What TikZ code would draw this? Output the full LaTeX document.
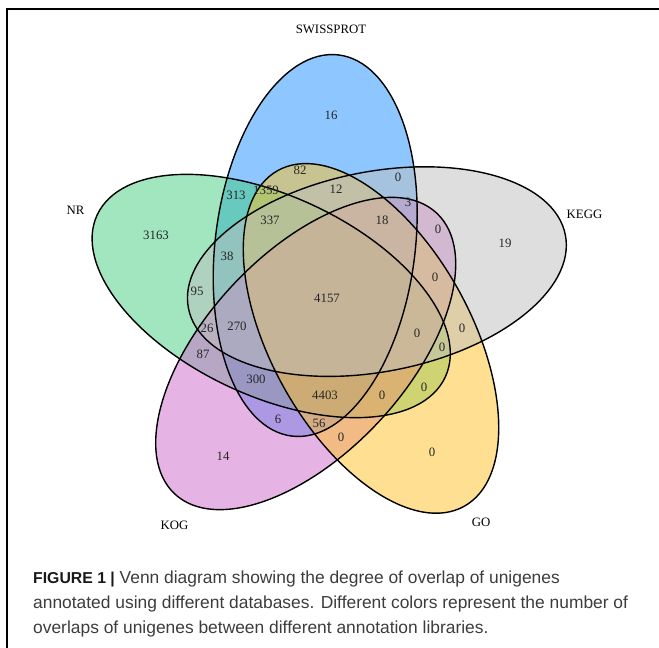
\documentclass[tikz,border=0pt]{standalone}
\usepackage{fontspec}
\setmainfont{Liberation Serif}
\newfontfamily\capfont{Liberation Sans}
\definecolor{cSwiss}{RGB}{30,144,255}
\definecolor{cNR}{RGB}{67,205,128}
\definecolor{cKOG}{RGB}{205,105,201}
\definecolor{cGO}{RGB}{255,193,37}
\definecolor{cKEGG}{RGB}{190,190,190}
\definecolor{capgray}{RGB}{60,60,60}
\begin{document}
\begin{tikzpicture}[x=1pt,y=-1pt,
  setfill/.style={fill=#1,fill opacity=0.5,draw=none},
  setline/.style={draw=black,line width=1.4pt,fill=none},
  num/.style={font=\fontsize{12.8}{14}\selectfont,inner sep=0pt,text=black!85},
  catlabel/.style={font=\fontsize{12.8}{14}\selectfont,inner sep=0pt},
  frameline/.style={draw=black,line width=1.2pt}]
\useasboundingbox (0,0) rectangle (659,648);
% frame
\coordinate (fTR) at (659,9);
\coordinate (fTL) at (7,9);
\coordinate (fBL) at (7,648);
\draw[frameline] (fTR) -- (fTL) -- (fBL);
% fills (draw order: SWISSPROT, NR, KOG, GO, KEGG)
\path[setfill=cSwiss,shift={(315.2,245.5)},rotate=83] (0,0) ellipse [x radius=192pt,y radius=100pt];
\path[setfill=cNR,shift={(271.2,296.0)},rotate=155] (0,0) ellipse [x radius=192pt,y radius=100pt];
\path[setfill=cKOG,shift={(305.7,353.5)},rotate=47] (0,0) ellipse [x radius=192pt,y radius=100pt];
\path[setfill=cGO,shift={(371.0,338.4)},rotate=-61] (0,0) ellipse [x radius=192pt,y radius=100pt];
\path[setfill=cKEGG,shift={(376.9,271.6)},rotate=11] (0,0) ellipse [x radius=192pt,y radius=100pt];
% outlines
\path[setline,shift={(315.2,245.5)},rotate=83] (0,0) ellipse [x radius=192pt,y radius=100pt];
\path[setline,shift={(271.2,296.0)},rotate=155] (0,0) ellipse [x radius=192pt,y radius=100pt];
\path[setline,shift={(305.7,353.5)},rotate=47] (0,0) ellipse [x radius=192pt,y radius=100pt];
\path[setline,shift={(371.0,338.4)},rotate=-61] (0,0) ellipse [x radius=192pt,y radius=100pt];
\path[setline,shift={(376.9,271.6)},rotate=11] (0,0) ellipse [x radius=192pt,y radius=100pt];
% category labels
\node[catlabel] (lSwiss) at (331,29) {SWISSPROT};
\node[catlabel] (lNR) at (75.5,210) {NR};
\node[catlabel] (lKEGG) at (584.5,214) {KEGG};
\node[catlabel] (lGO) at (481,522) {GO};
\node[catlabel] (lKOG) at (174.5,525.5) {KOG};
% region counts
\node[num] (n1) at (331,115) {16};
\node[num] (n2) at (300,170) {82};
\node[num] (n3) at (336,189) {12};
\node[num] (n4) at (398,177) {0};
\node[num] (n5) at (408,202) {3};
\node[num] (n6) at (438,229) {0};
\node[num] (n7) at (382,220) {18};
\node[num] (n8) at (236,195) {313};
\node[num] (n9) at (266,190) {1359};
\node[num] (n10) at (270,220) {337};
\node[num] (n11) at (227,256) {38};
\node[num] (n12) at (156,235) {3163};
\node[num] (n13) at (197,291) {95};
\node[num] (n14) at (207,328) {26};
\node[num] (n15) at (203,354) {87};
\node[num] (n16) at (237,326) {270};
\node[num] (n17) at (327,298) {4157};
\node[num] (n18) at (435,277) {0};
\node[num] (n19) at (417,333) {0};
\node[num] (n20) at (462,328) {0};
\node[num] (n21) at (442,347) {0};
\node[num] (n22) at (256,379) {300};
\node[num] (n23) at (325,395) {4403};
\node[num] (n24) at (382,395) {0};
\node[num] (n25) at (424,387) {0};
\node[num] (n26) at (278,419) {6};
\node[num] (n27) at (319,423) {56};
\node[num] (n28) at (341,437) {0};
\node[num] (n29) at (223,456) {14};
\node[num] (n30) at (432,452) {0};
\node[num] (n31) at (505,243) {19};
% caption
\node[anchor=north west,inner sep=0pt,align=left,text=capgray,
      font=\capfont\fontsize{17.4}{25}\selectfont] (caption) at (33,571)
 {{\bfseries\color{black!90}\fontsize{15.8}{25}\selectfont FIGURE 1 |} Venn diagram showing the degree of overlap of unigenes\\
  annotated using different databases. Different colors represent the number of\\
  overlaps of unigenes between different annotation libraries.};
\end{tikzpicture}
\end{document}
